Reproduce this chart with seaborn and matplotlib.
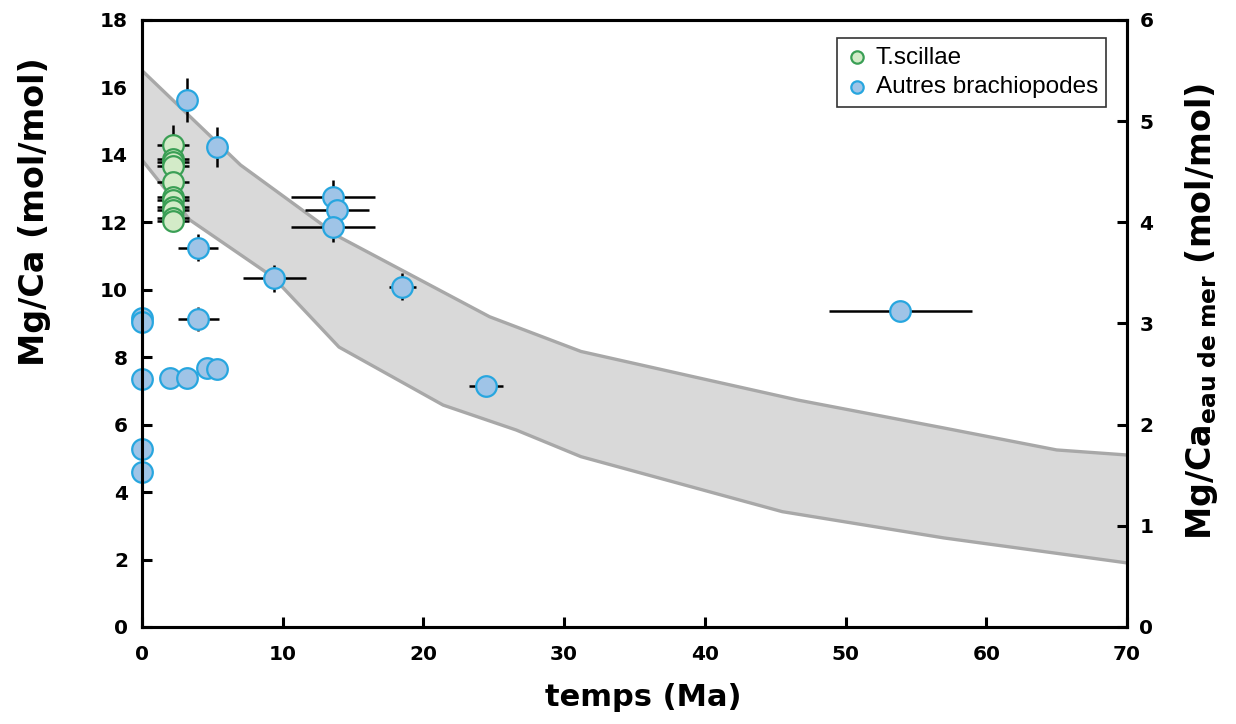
import matplotlib
matplotlib.use("Agg")
import matplotlib.pyplot as plt
import seaborn as sns
import pandas as pd
import numpy as np

# grey envelope of seawater Mg/Ca (left axis units)
band_up_x = [0, 7, 14, 24.7, 31.2, 39.2, 46.6, 57, 65, 70]
band_up_y = [16.5, 13.7, 11.57, 9.2, 8.17, 7.42, 6.73, 5.9, 5.25, 5.1]
band_lo_x = [0, 3.4, 9.3, 14, 21.4, 26.6, 31.2, 45.5, 57, 70]
band_lo_y = [13.85, 12.07, 10.38, 8.3, 6.58, 5.84, 5.05, 3.42, 2.64, 1.9]

# T.scillae
scil_x = [2.2] * 11
scil_y = [14.29, 13.88, 13.78, 13.66, 13.2, 12.74, 12.66, 12.44, 12.38, 12.14, 12.05]
scil_xerr = [1.17] * 11
scil_yerr = [0.6, 0.2, 0.2, 0.2, 0.2, 0.2, 0.2, 0.2, 0.2, 0.2, 0.2]

# Autres brachiopodes
brach_x = [3.2, 5.33, 13.57, 13.86, 13.57, 3.98, 9.4, 18.5, 53.9, 24.45,
           4.0, 0, 0, 0, 2.0, 3.17, 4.64, 5.35, 0, 0]
brach_y = [15.63, 14.23, 12.75, 12.37, 11.86, 11.24, 10.34, 10.09, 9.37, 7.15,
           9.13, 9.15, 9.05, 7.35, 7.37, 7.37, 7.67, 7.65, 5.27, 4.6]
brach_xerr = [0, 0, 3.0, 2.3, 3.0, 1.45, 2.25, 0.95, 5.1, 1.2,
              1.45, 0, 0, 0, 0, 0, 0, 0, 0, 0]
brach_yerr = [0.65, 0.6, 0.5, 0, 0.45, 0.4, 0.4, 0.4, 0.3, 0.15,
              0.35, 0, 0, 0, 0.1, 0, 0.15, 0.15, 0, 0]

scil = pd.DataFrame({"x": scil_x, "y": scil_y})
brach = pd.DataFrame({"x": brach_x, "y": brach_y})

sns.set_style("ticks")
plt.rcParams['font.family'] = ['DejaVu Sans']
for key in ["text.color", "axes.labelcolor", "xtick.color", "ytick.color", "axes.edgecolor"]:
    plt.rcParams[key] = "black"

fig = plt.figure(figsize=(12.36, 7.24), dpi=100)
ax = fig.add_axes([0.1149, 0.134, 0.7969, 0.8384])

# envelope
ax.fill(np.concatenate([band_up_x, band_lo_x[::-1]]),
        np.concatenate([band_up_y, band_lo_y[::-1]]),
        color="#d9d9d9", lw=0, zorder=1)
ax.plot(band_up_x, band_up_y, color="#a8a8a8", lw=2.4, zorder=1.5)
ax.plot(band_lo_x, band_lo_y, color="#a8a8a8", lw=2.4, zorder=1.5)

# error bars
ax.errorbar(scil_x, scil_y, xerr=scil_xerr, yerr=scil_yerr, fmt="none",
            ecolor="black", elinewidth=1.8, capsize=0, zorder=2)
ax.errorbar(brach_x, brach_y, xerr=brach_xerr, yerr=brach_yerr, fmt="none",
            ecolor="black", elinewidth=1.8, capsize=0, zorder=2)

sns.scatterplot(data=scil, x="x", y="y", ax=ax, s=220, color="#d3ebc8",
                edgecolor="#3a9f55", linewidth=1.6, label="T.scillae", zorder=3)
sns.scatterplot(data=brach, x="x", y="y", ax=ax, s=220, color="#9fc4e7",
                edgecolor="#27a6df", linewidth=1.6, label="Autres brachiopodes",
                zorder=4, clip_on=False)

ax.set_xlim(0, 70)
ax.set_ylim(0, 18)
ax.set_xticks(range(0, 71, 10))
ax.set_yticks(range(0, 19, 2))
ax.tick_params(direction="in", length=7, width=2.2, labelsize=14.5,
               top=False, right=False)
ax.tick_params(axis="x", pad=13)
ax.tick_params(axis="y", pad=10)
for lab in ax.get_xticklabels() + ax.get_yticklabels():
    lab.set_fontweight("bold")
for sp in ax.spines.values():
    sp.set_linewidth(2.2)
    sp.set_visible(True)

ax.set_xlabel("temps (Ma)", fontsize=22, fontweight="bold")
ax.xaxis.set_label_coords(0.509, -0.092)
ax.set_ylabel("Mg/Ca (mol/mol)", fontsize=24, fontweight="bold")
ax.yaxis.set_label_coords(-0.092, 0.684)

leg = ax.legend(loc="upper right", bbox_to_anchor=(0.979, 0.970), borderaxespad=0,
                frameon=True, fancybox=False, markerscale=0.6, handletextpad=0.25,
                borderpad=0.35, labelspacing=0.3, handlelength=1.0,
                prop={"family": "Liberation Sans", "size": 17.5})
leg.get_frame().set_edgecolor("black")
leg.get_frame().set_linewidth(1.2)

# right axis: seawater Mg/Ca
ax2 = ax.twinx()
ax2.set_ylim(0, 6)
ax2.set_yticks(range(0, 7))
ax2.tick_params(direction="in", length=7, width=2.2, labelsize=14.5, pad=9)
for lab in ax2.get_yticklabels():
    lab.set_fontweight("bold")
for sp in ax2.spines.values():
    sp.set_linewidth(2.2)
ax2.set_ylabel(r"Mg/Ca$_{\mathbf{eau\ de\ mer}}$ (mol/mol)", fontsize=24,
               fontweight="bold")
ax2.yaxis.set_label_coords(1.057, 0.519)

fig.savefig("out.png", dpi=100)
